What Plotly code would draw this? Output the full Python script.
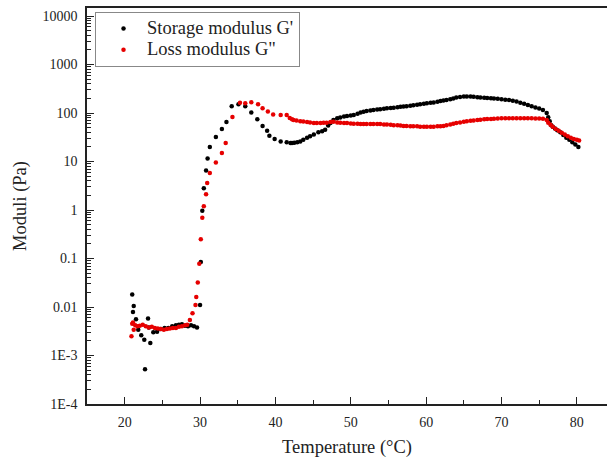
import plotly.graph_objects as go

# Storage modulus G' (Pa) vs temperature (°C)
temp_storage = [21.0, 21.1, 21.2, 21.5, 21.8, 22.2, 22.6, 22.7, 23.1, 23.2, 23.4, 23.8, 24.3, 24.8,
                25.3, 25.8, 26.3, 26.8, 27.2, 27.6, 28.0, 28.4, 28.8, 29.2, 29.6, 30.0, 30.1, 30.3,
                30.5, 30.8, 31.0, 31.3, 32.1, 32.9, 33.5, 34.2, 35.1, 36.0, 36.8, 37.6, 38.3, 38.9,
                39.2, 39.9, 40.7, 41.5, 42.0, 42.2, 42.5, 42.9, 43.3, 43.7, 44.2, 44.6, 45.1, 45.7,
                46.2, 46.6, 47.0, 47.3, 47.7, 48.2, 48.6, 49.1, 49.5, 50.0, 50.4, 50.9, 51.3, 51.7,
                52.1, 52.6, 53.0, 53.5, 53.9, 54.4, 54.8, 55.3, 55.7, 56.2, 56.6, 57.0, 57.4, 57.9,
                58.3, 58.8, 59.2, 59.7, 60.1, 60.6, 61.0, 61.5, 61.9, 62.3, 62.7, 63.2, 63.6, 64.0,
                64.5, 65.0, 65.4, 65.9, 66.3, 66.8, 67.2, 67.7, 68.1, 68.6, 69.0, 69.5, 70.0, 70.5,
                71.0, 71.5, 72.0, 72.5, 73.0, 73.5, 74.0, 74.5, 75.0, 75.5, 76.0, 76.2, 76.4, 76.6,
                76.8, 77.1, 77.4, 77.8, 78.2, 78.6, 79.0, 79.4, 79.8, 80.2]
storage = [0.018, 0.0079, 0.0105, 0.0056, 0.0034, 0.0026, 0.0021, 0.00052, 0.0058, 0.0038, 0.0018,
           0.0030, 0.0031, 0.0035, 0.0037, 0.0037, 0.0040, 0.0042, 0.0043, 0.0044, 0.0041, 0.0040,
           0.0042, 0.0040, 0.0038, 0.011, 0.085, 0.97, 2.8, 6.5, 11.6, 20, 32, 47, 65, 138, 151,
           138, 102, 74, 54, 43, 34, 29, 26, 25, 24, 24, 24.5, 25, 26, 28, 31, 33, 36, 40, 42, 45,
           55, 62, 72, 78, 81, 85, 87, 89, 91, 96, 102, 106, 110, 113, 116, 118, 120, 123, 125,
           127, 129, 132, 134, 136, 138, 141, 145, 148, 151, 155, 158, 162, 165, 170, 176, 181,
           186, 193, 200, 209, 213, 218, 219, 218, 216, 212, 209, 206, 204, 202, 199, 196, 192,
           188, 185, 179, 172, 163, 155, 147, 138, 130, 124, 115, 100, 82, 68, 56, 52, 48, 44, 40,
           35, 31, 28, 25, 22.5, 20]

# Loss modulus G'' (Pa) vs temperature (°C)
temp_loss = [20.9, 21.0, 21.1, 21.2, 21.4, 21.7, 22.0, 22.4, 22.8, 23.2, 23.6, 24.0, 24.4, 24.8,
             25.2, 25.6, 26.0, 26.4, 26.8, 27.2, 27.6, 28.0, 28.3, 28.65, 29.0, 29.4, 29.5, 29.7,
             29.9, 30.1, 30.3, 30.5, 30.8, 30.95, 31.3, 32.1, 32.9, 33.4, 34.3, 35.3, 36.0, 36.8,
             37.7, 38.3, 39.0, 39.7, 40.7, 41.5, 41.9, 42.2, 42.4, 42.8, 43.3, 43.7, 44.2, 44.6,
             45.1, 45.5, 46.0, 46.4, 46.8, 47.3, 47.7, 48.2, 48.6, 49.1, 49.5, 50.0, 50.4, 50.9,
             51.3, 51.7, 52.1, 52.6, 53.0, 53.5, 53.9, 54.4, 54.8, 55.3, 55.7, 56.2, 56.6, 57.0,
             57.4, 57.9, 58.3, 58.8, 59.2, 59.7, 60.1, 60.6, 61.0, 61.5, 61.9, 62.3, 62.7, 63.2,
             63.6, 64.0, 64.5, 65.0, 65.4, 65.9, 66.3, 66.8, 67.2, 67.7, 68.1, 68.6, 69.0, 69.5,
             70.0, 70.5, 71.0, 71.5, 72.0, 72.5, 73.0, 73.5, 74.0, 74.5, 75.0, 75.5, 76.0, 76.2,
             76.5, 76.8, 77.2, 77.6, 78.0, 78.4, 78.8, 79.2, 79.6, 80.0, 80.3]
loss = [0.0025, 0.0045, 0.0048, 0.0034, 0.0042, 0.0040, 0.0041, 0.0043, 0.0040, 0.0038, 0.0039,
        0.0037, 0.0036, 0.0035, 0.0034, 0.0035, 0.0036, 0.0037, 0.0037, 0.0039, 0.0040, 0.0042,
        0.0043, 0.0054, 0.0074, 0.011, 0.016, 0.032, 0.078, 0.25, 0.69, 1.2, 2.1, 3.6, 5.8, 9.5,
        15, 24, 83, 162, 158, 166, 151, 126, 107, 93, 91, 91, 79, 74, 72, 70, 68, 67, 65, 64, 62,
        62, 62, 63, 63, 65, 66, 64, 63, 62, 62, 61, 60, 60, 59, 59, 59, 59, 59, 59, 59, 58, 58,
        57, 56, 56, 55, 54, 54, 53, 53, 53, 52, 52, 52, 52, 52, 53, 53, 54, 56, 58, 60, 62, 64,
        66, 68, 69, 70, 72, 73, 74, 75, 75, 76, 77, 78, 78, 78, 78, 78, 78, 78, 78, 78, 77, 77,
        76, 72, 63, 57, 52, 47, 43, 39, 36, 33, 31, 29, 28, 27]

y_tickvals = [1e-4, 1e-3, 1e-2, 1e-1, 1, 10, 100, 1000, 10000]
y_ticktext = ["1E-4", "1E-3", "0.01", "0.1", "1", "10", "100", "1000", "10000"]
y_minor_vals = [m * d for d in y_tickvals[:-1] for m in range(2, 10)] + [2e4, 3e4, 4e4]

FONT = "Liberation Serif, Times New Roman, serif"
LEG = '<span style="font-size:18.5px">{}</span>'

fig = go.Figure()
fig.add_trace(go.Scatter(x=temp_storage, y=storage, mode="markers",
                         name=LEG.format("Storage modulus G'"),
                         marker=dict(color="black", size=4.5)))
fig.add_trace(go.Scatter(x=temp_loss, y=loss, mode="markers",
                         name=LEG.format('Loss modulus G"'),
                         marker=dict(color="#e60000", size=4.5)))
# overlay axis carrying the minor log ticks
fig.add_trace(go.Scatter(x=[], y=[], yaxis="y2", showlegend=False, hoverinfo="skip"))

fig.update_layout(
    width=607, height=461,
    margin=dict(l=87, r=0, t=8, b=57),
    paper_bgcolor="white", plot_bgcolor="white",
    font=dict(family=FONT, color="#222", size=14),
    showlegend=True,
    legend=dict(x=0.0154, y=0.99, xanchor="left", yanchor="top",
                bordercolor="#888", borderwidth=1, bgcolor="white",
                font=dict(family=FONT, size=14, color="#222"),
                indentation=4, itemwidth=37, tracegroupgap=0),
    yaxis2=dict(type="log", range=[-4, 4.165], overlaying="y", side="left", anchor="x",
                showgrid=False, zeroline=False, showline=False, automargin=False,
                tickmode="array", tickvals=y_minor_vals, showticklabels=False,
                ticks="inside", ticklen=4, tickwidth=1.2, tickcolor="#222"),
)
fig.update_xaxes(
    range=[15, 84], showgrid=False, zeroline=False, automargin=False,
    showline=True, linecolor="#222", linewidth=1.5, mirror=True,
    ticks="inside", ticklen=7, tickwidth=1.3, tickcolor="#222",
    tick0=0, dtick=10, ticklabelstandoff=4,
    minor=dict(ticks="inside", ticklen=4, tickwidth=1.3, tickcolor="#222", dtick=5, showgrid=False),
    title=dict(text="Temperature (°C)", font=dict(family=FONT, size=18.5, color="#222"), standoff=12),
    tickfont=dict(family=FONT, size=14, color="#222"),
)
fig.update_layout(yaxis=dict(
    type="log", range=[-4, 4.165], showgrid=False, zeroline=False, automargin=False,
    showline=True, linecolor="#222", linewidth=1.5,
    ticks="inside", ticklen=7, tickwidth=1.3, tickcolor="#222",
    tickmode="array", tickvals=y_tickvals, ticktext=y_ticktext, ticklabelstandoff=5,
    title=dict(text="Moduli (Pa)", font=dict(family=FONT, size=18.5, color="#222"), standoff=11),
    tickfont=dict(family=FONT, size=14, color="#222"),
))

fig.write_html("out.html", config={"displayModeBar": False},
               post_script="document.body.style.margin='0';")
